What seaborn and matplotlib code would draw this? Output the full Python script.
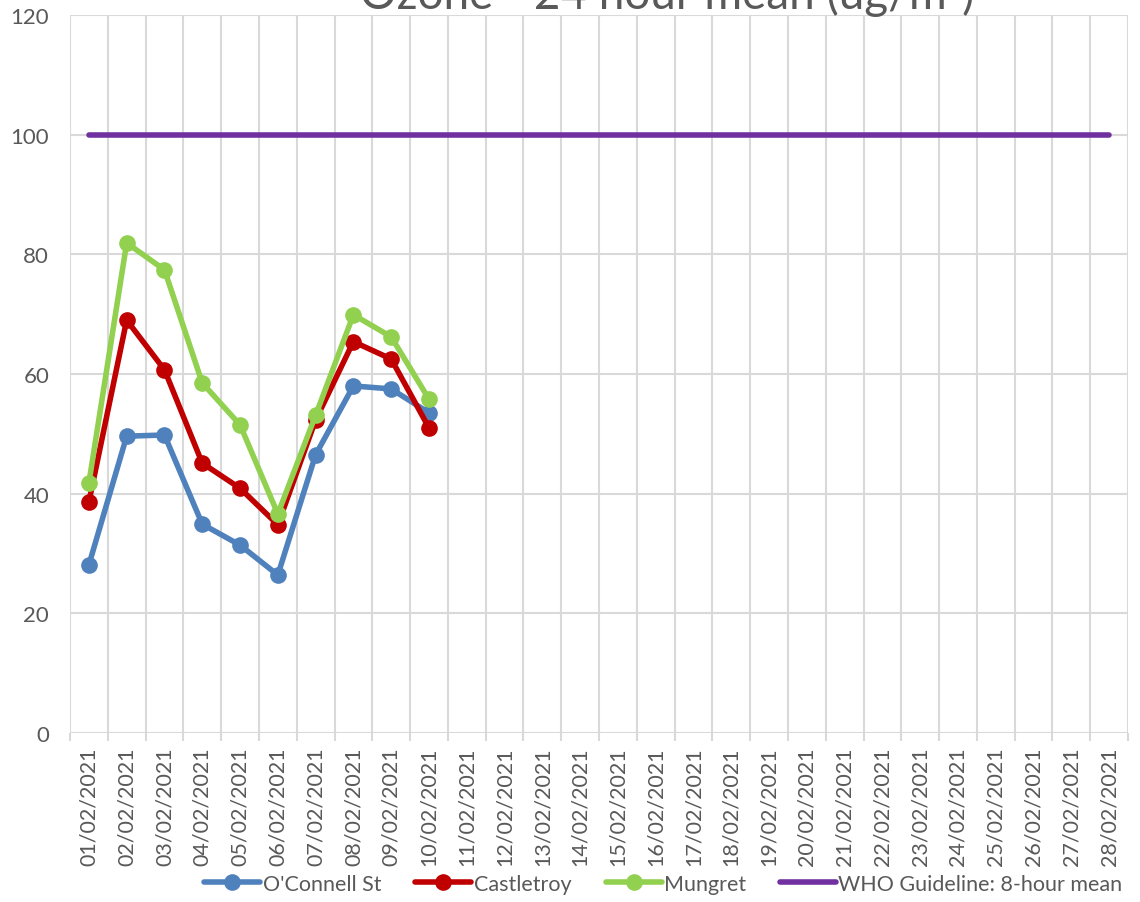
import pandas as pd
import seaborn as sns
import matplotlib.pyplot as plt
import numpy as np
from matplotlib.ticker import FixedLocator
from matplotlib.lines import Line2D

# dates on the category axis
dates = [f"{d:02d}/02/2021" for d in range(1, 29)]

# readings for the first ten days (ug/m3)
oconnell = [28.1, 49.6, 49.8, 34.9, 31.4, 26.4, 46.5, 58.0, 57.5, 53.5]
castletroy = [38.6, 69.0, 60.7, 45.1, 40.9, 34.8, 52.3, 65.4, 62.5, 51.0]
mungret = [41.8, 81.9, 77.4, 58.5, 51.5, 36.6, 53.1, 69.9, 66.2, 55.8]
who_guideline = [100] * len(dates)

series_names = ["O'Connell St", "Castletroy", "Mungret", "WHO Guideline: 8-hour mean"]
series_values = [oconnell, castletroy, mungret, who_guideline]
colors = ["#4F81BD", "#C00000", "#92D050", "#7030A0"]

frames = []
for name, vals in zip(series_names, series_values):
    frames.append(pd.DataFrame({
        'date': dates[:len(vals)],
        'value': vals,
        'series': name,
    }))
df = pd.concat(frames, ignore_index=True)
df['date'] = pd.Categorical(df['date'], categories=dates, ordered=True)

sns.set_style('white')
plt.rcParams['font.family'] = ['Lato', 'DejaVu Sans']

fig = plt.figure(figsize=(11.4, 9.03), dpi=100)
ax = fig.add_axes([0.0614, 0.1872, 0.9281, 0.7951])

grey_text = '#595959'
grid_col = '#D9D9D9'

for name, color in zip(series_names, colors):
    sub = df[df['series'] == name]
    is_who = name.startswith('WHO')
    sns.lineplot(data=sub, x='date', y='value', ax=ax, color=color,
                 linewidth=4.0, marker=None if is_who else 'o',
                 markersize=12, markeredgewidth=0, sort=False,
                 legend=False, zorder=3)

ax.set_xlim(-0.5, len(dates) - 0.5)
ax.set_ylim(0, 120)
ax.set_yticks(np.arange(0, 121, 20))
ax.set_xticks(range(len(dates)))
ax.set_xticklabels(dates, rotation=90, va='top', ha='center')
ax.xaxis.set_minor_locator(FixedLocator(np.arange(-0.5, len(dates), 1)))

ax.grid(axis='y', which='major', color=grid_col, linewidth=1.5)
ax.grid(axis='x', which='minor', color=grid_col, linewidth=1.5)
ax.grid(axis='x', which='major', visible=False)
ax.set_axisbelow(True)
for s in ax.spines.values():
    s.set_visible(False)

ax.tick_params(axis='y', length=0, pad=15, labelsize=16, labelcolor=grey_text)
ax.tick_params(axis='x', which='major', length=0, pad=10, labelsize=15.5,
               labelcolor=grey_text)
ax.tick_params(axis='x', which='minor', length=6, width=1.5, color=grid_col,
               bottom=True)
ax.set_xlabel('')
ax.set_ylabel('')

fig.text(0.585, 1 - 9 / 903, 'Ozone - 24 hour mean (ug/m³)', ha='center',
         va='baseline', fontsize=33, color=grey_text)

handles = []
for name, color in zip(series_names, colors):
    is_who = name.startswith('WHO')
    handles.append(Line2D([], [], color=color, linewidth=4.0,
                          marker=None if is_who else 'o', markersize=12,
                          markeredgewidth=0))
fig.legend(handles, series_names, loc='center', bbox_to_anchor=(0.582, 1 - 885 / 903),
           ncol=4, frameon=False, fontsize=15.5, labelcolor=grey_text,
           handlelength=2.6, handletextpad=0.1, columnspacing=1.6)

fig.savefig('out.png', dpi=100)
plt.close(fig)
